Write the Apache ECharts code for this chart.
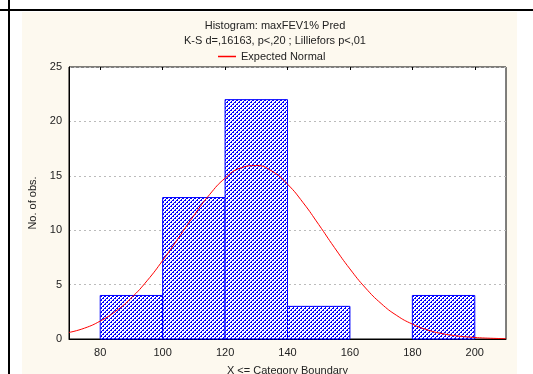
<!DOCTYPE html>
<html>
<head>
<meta charset="utf-8">
<script src="https://cdn.jsdelivr.net/npm/echarts@6/dist/echarts.min.js"></script>
<style>
html, body { margin: 0; padding: 0; background: #fff; }
#root { width: 533px; height: 374px; }
</style>
</head>
<body>
<div id="root"></div>
<script>
// histogram bins: [lower, upper]
let binLower = [80, 100, 120, 140, 160, 180];
let binUpper = [100, 120, 140, 160, 180, 200];
let binCounts = [4, 13, 22, 3, 0, 4];
// expected normal curve
let curveX = [70, 75, 80, 85, 90, 95, 100, 105, 110, 115, 120, 125, 130, 135, 140,
  145, 150, 155, 160, 165, 170, 175, 180, 185, 190, 195, 200, 205, 210];
let curveY = [0.6, 1.0, 1.65, 2.56, 3.79, 5.35, 7.21, 9.26, 11.35, 13.26, 14.78, 15.72, 15.94, 15.43, 14.23,
  12.53, 10.52, 8.42, 6.44, 4.69, 3.26, 2.16, 1.37, 0.82, 0.47, 0.26, 0.14, 0.07, 0.03];
let xTicks = [80, 100, 120, 140, 160, 180, 200];

let font = 'Liberation Sans, Arial, sans-serif';

// hatch fill
let pat = document.createElement('canvas');
pat.width = 4; pat.height = 4;
let pctx = pat.getContext('2d');
pctx.fillStyle = '#fff';
pctx.fillRect(0, 0, 4, 4);
pctx.fillStyle = '#0000ff';
for (let x = 0; x < 4; x++) {
  for (let y = 0; y < 4; y++) {
    if ((x + y) % 4 === 0 || ((x + y) % 4 === 1 && y % 2 === 0)) pctx.fillRect(x, y, 1, 1);
  }
}

let bins = binCounts.map((c, i) => [binLower[i], binUpper[i], c]);

let root = document.getElementById('root');
let myCharts = echarts.init(root);
let option = {
  animation: false,
  textStyle: { fontFamily: font },
  graphic: [
    { type: 'rect', shape: { x: 22, y: 12, width: 495, height: 362 }, style: { fill: '#fdf9ef' }, z: -10 },
    { type: 'line', shape: { x1: 0, y1: 10, x2: 533, y2: 10 }, style: { stroke: '#000', lineWidth: 2 } },
    { type: 'line', shape: { x1: 9, y1: 0, x2: 9, y2: 374 }, style: { stroke: '#000', lineWidth: 2 } }
  ],
  title: {
    text: 'Histogram: maxFEV1% Pred',
    subtext: 'K-S d=,16163, p<,20 ; Lilliefors p<,01',
    left: 270, textAlign: 'center', top: 15,
    itemGap: 4,
    textStyle: { fontSize: 11, fontWeight: 'normal', color: '#222', fontFamily: font },
    subtextStyle: { fontSize: 11, color: '#222', fontFamily: font }
  },
  legend: {
    data: [{ name: 'Expected Normal', icon: 'rect' }],
    left: 213, top: 46,
    itemWidth: 18, itemHeight: 1.5, itemGap: 5,
    textStyle: { fontSize: 11, color: '#222', fontFamily: font }
  },
  grid: {
    left: 69, right: 27, top: 67, bottom: 35,
    outerBoundsMode: 'none',
    show: true, backgroundColor: '#fff', borderColor: '#000', borderWidth: 1
  },
  xAxis: [{
    type: 'value', min: 70, max: 210,
    name: 'X <= Category Boundary', nameLocation: 'middle', nameGap: 26,
    nameTextStyle: { fontSize: 11, color: '#222' },
    axisLine: { show: true, lineStyle: { color: '#000' } },
    axisTick: { show: false },
    splitLine: { show: false },
    axisLabel: { customValues: xTicks, fontSize: 11, color: '#222', margin: 8 }
  }, {
    type: 'value', min: 70, max: 210, position: 'top',
    axisLine: { show: false },
    axisTick: { show: true, inside: true, length: 3, customValues: xTicks, lineStyle: { color: '#000' } },
    axisLabel: { show: false },
    splitLine: { show: false }
  }],
  yAxis: {
    type: 'value', min: 0, max: 25, interval: 5,
    name: 'No. of obs.', nameLocation: 'middle', nameGap: 25,
    nameTextStyle: { fontSize: 11, color: '#222' },
    axisLine: { show: true, lineStyle: { color: '#000' } },
    axisTick: { show: false },
    axisLabel: { fontSize: 11, color: '#222', margin: 7 },
    splitLine: { show: true, lineStyle: { color: '#bbb', type: [2, 3] } }
  },
  series: [{
    name: 'bins',
    type: 'custom',
    data: bins,
    encode: { x: [0, 1], y: 2 },
    renderItem: function (params, api) {
      if (api.value(2) <= 0) return null;
      let p0 = api.coord([api.value(0), api.value(2)]);
      let p1 = api.coord([api.value(1), 0]);
      return {
        type: 'rect',
        shape: { x: p0[0], y: p0[1], width: p1[0] - p0[0], height: p1[1] - p0[1] },
        style: { fill: { image: pat, repeat: 'repeat' }, stroke: '#0000ff', lineWidth: 1 }
      };
    },
    z: 2
  }, {
    name: 'Expected Normal',
    type: 'line',
    data: curveX.map((x, i) => [x, curveY[i]]),
    smooth: true,
    showSymbol: false,
    lineStyle: { color: '#ff0000', width: 1 },
    itemStyle: { color: '#ff0000' },
    z: 3
  }]
};
myCharts.setOption(option);
</script>
</body>
</html>
